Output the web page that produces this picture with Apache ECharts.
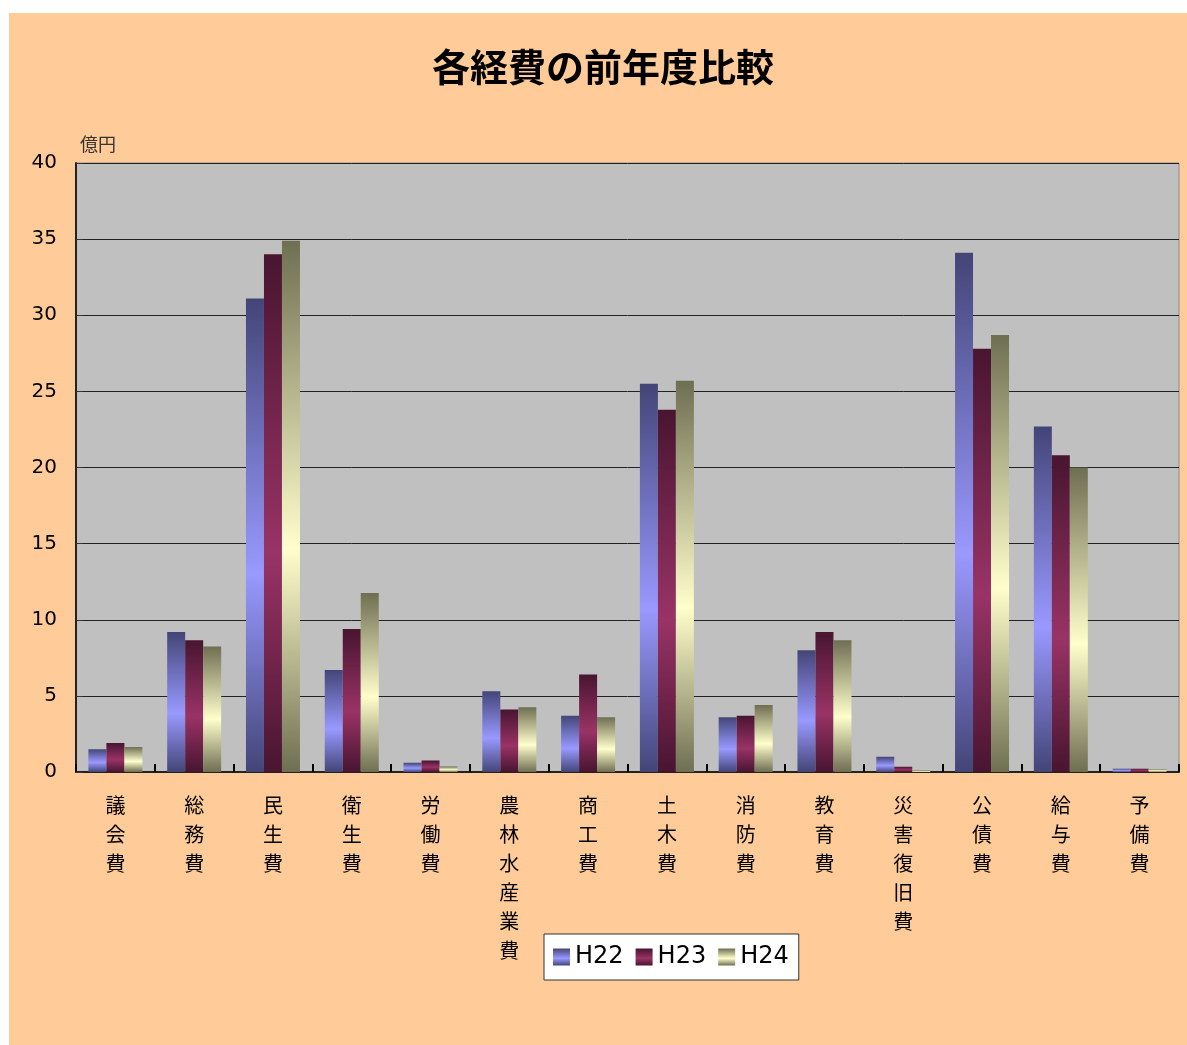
<!DOCTYPE html>
<html>
<head>
<meta charset="utf-8">
<script src="https://cdn.jsdelivr.net/npm/echarts@6/dist/echarts.min.js"></script>
<style>
  html, body { margin: 0; padding: 0; background: #fff; }
  #bg { position: absolute; left: 9px; top: 13px; width: 1178px; height: 1032px; background: #FFCC99; }
  #chart { position: absolute; left: 0; top: 0; width: 1187px; height: 1045px; }
</style>
</head>
<body>
<div id="bg"></div>
<div id="chart"></div>
<script>
// categories (経費の種類)
const categories = ['議会費', '総務費', '民生費', '衛生費', '労働費', '農林水産業費', '商工費',
  '土木費', '消防費', '教育費', '災害復旧費', '公債費', '給与費', '予備費'];

// 億円
const h22 = [1.5, 9.2, 31.1, 6.7, 0.6, 5.3, 3.7, 25.5, 3.6, 8.0, 1.0, 34.1, 22.7, 0.22];
const h23 = [1.9, 8.65, 34.0, 9.4, 0.75, 4.1, 6.4, 23.8, 3.7, 9.2, 0.35, 27.8, 20.8, 0.22];
const h24 = [1.65, 8.25, 34.9, 11.75, 0.36, 4.25, 3.6, 25.7, 4.4, 8.65, 0.1, 28.7, 20.0, 0.2];

const seriesNames = ['H22', 'H23', 'H24'];

// dark edge -> light centre -> dark edge, like the old Excel bars
function barGradient(dark, light) {
    return new echarts.graphic.LinearGradient(0, 0, 0, 1, [
        { offset: 0, color: dark },
        { offset: 0.58, color: light },
        { offset: 1, color: dark }
    ]);
}

const palette = [
    ['#434577', '#9999FF'],
    ['#481530', '#993366'],
    ['#6E6E52', '#FFFFCC']
];

const font = '"Noto Sans CJK JP", "Noto Sans", sans-serif';
const numFont = '"DejaVu Sans", sans-serif';

const chart = echarts.init(document.getElementById('chart'));

chart.setOption({
    backgroundColor: 'transparent',
    textStyle: { fontFamily: font },
    title: {
        text: '各経費の前年度比較',
        left: 427,
        top: 43,
        textStyle: { fontSize: 38, fontWeight: 'bold', color: '#000', fontFamily: font }
    },
    legend: {
        data: seriesNames,
        left: 544,
        top: 934,
        icon: 'rect',
        padding: [11, 10, 11, 9],
        itemWidth: 17,
        itemHeight: 17,
        itemGap: 12,
        backgroundColor: '#fff',
        borderColor: '#333',
        borderWidth: 1,
        textStyle: { fontSize: 24, color: '#000', fontFamily: numFont }
    },
    grid: {
        left: 76,
        right: 8,
        top: 163,
        bottom: 273,
        show: true,
        backgroundColor: '#C0C0C0',
        borderColor: '#8a8a8a',
        borderWidth: 1
    },
    xAxis: {
        type: 'category',
        data: categories,
        axisLine: { show: true, lineStyle: { color: '#222', width: 2 } },
        axisTick: { show: true, inside: true, length: 8, lineStyle: { color: '#000', width: 2 } },
        axisLabel: {
            interval: 0,
            margin: 19,
            fontSize: 20,
            lineHeight: 29,
            color: '#000',
            verticalAlign: 'top',
            formatter: v => v.split('').join('\n')
        }
    },
    yAxis: {
        type: 'value',
        min: 0,
        max: 40,
        interval: 5,
        name: '億円',
        nameLocation: 'end',
        nameGap: 10,
        nameTextStyle: { fontSize: 18, color: '#333', align: 'left', padding: [0, 0, 0, 4] },
        axisLine: { show: true, lineStyle: { color: '#222', width: 2 } },
        axisTick: { show: true, inside: true, length: 7, lineStyle: { color: '#333' } },
        axisLabel: { fontSize: 20, color: '#000', margin: 19, fontFamily: numFont, padding: [0, 0, 8, 0] },
        splitLine: { show: true, lineStyle: { color: '#222', width: 1 } }
    },
    series: seriesNames.map((name, i) => ({
        name: name,
        type: 'bar',
        data: [h22, h23, h24][i],
        barWidth: 18,
        barGap: '0%',
        itemStyle: { color: barGradient(palette[i][0], palette[i][1]) },
        emphasis: { disabled: true }
    }))
});
</script>
</body>
</html>
